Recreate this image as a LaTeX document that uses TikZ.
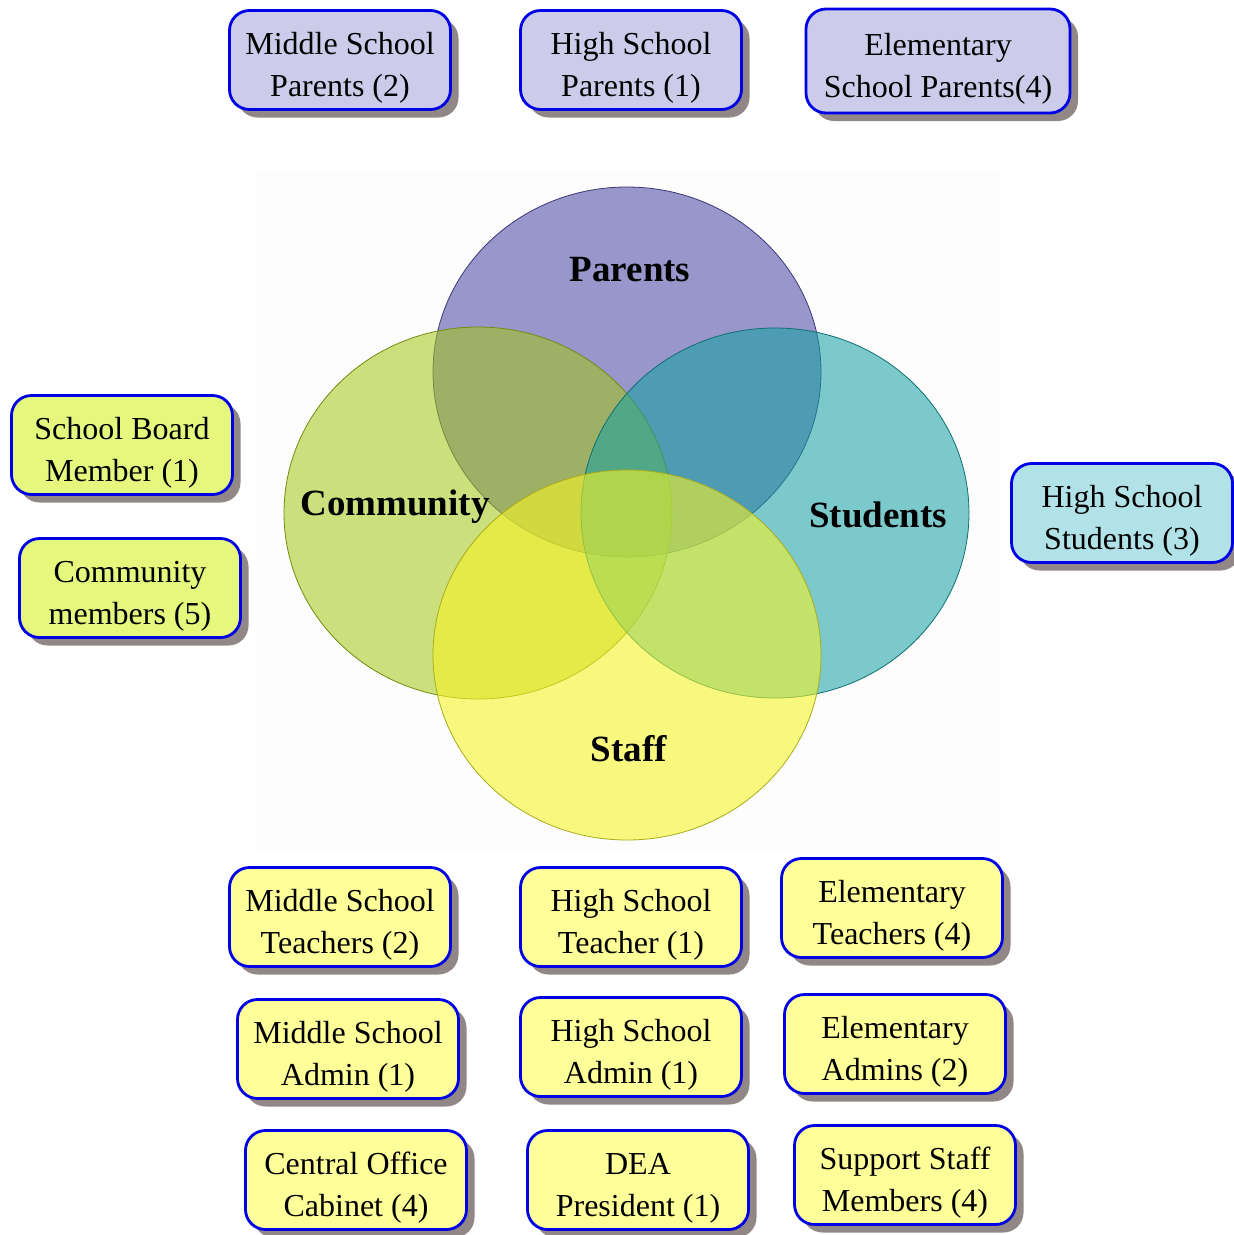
\documentclass[tikz,border=0pt]{standalone}
\usepackage{fontspec}
\setmainfont{Liberation Serif}
\usepackage{tikz}
\usetikzlibrary{shadows,positioning}
\definecolor{cardedge}{HTML}{0000E6}
\definecolor{shadowc}{HTML}{918787}
\definecolor{cardlav}{HTML}{CDCBEA}
\definecolor{cardlime}{HTML}{E6F77E}
\definecolor{cardaqua}{HTML}{B0E2E8}
\definecolor{cardyel}{HTML}{FFFF99}
\definecolor{venbg}{HTML}{FDFDFD}
\definecolor{parc}{HTML}{5552AA}
\definecolor{comc}{HTML}{A4C714}
\definecolor{stuc}{HTML}{13A0A2}
\definecolor{stfc}{HTML}{F5F526}
\newcommand\cardtxt[2]{\rule{0pt}{38pt}#1\\#2}
\tikzset{
  card/.style={draw=cardedge, line width=2.8pt, rounded corners=20pt,
    minimum width=221pt, minimum height=99pt, inner sep=0pt, align=center,
    font=\fontsize{32}{42}\selectfont,
    drop shadow={shadow xshift=8pt, shadow yshift=-8pt, fill=shadowc, opacity=1}},
  setc/.style 2 args={fill=#1, fill opacity=#2, draw=#1!70!black, line width=0.8pt},
  setlab/.style={font=\fontsize{37}{40}\selectfont\bfseries},
}
\begin{document}
\begin{tikzpicture}[x=1pt,y=-1pt]
\useasboundingbox (0,0) rectangle (1234,1235);
\fill[venbg] (255,170) rectangle (1000,850);

\draw[setc={parc}{0.6}] (627,372) ellipse [x radius=194, y radius=185];
\draw[setc={comc}{0.55}] (478,513) ellipse [x radius=194, y radius=186];
\draw[setc={stuc}{0.55}] (775,513) ellipse [x radius=194, y radius=185];
\draw[setc={stfc}{0.59}] (627,655) ellipse [x radius=194, y radius=185];

\node[setlab] (parents) at (630,270) {Parents};
\node[setlab] (community) at (395,507) {Community};
\node[setlab] (students) at (878,515) {Students};
\node[setlab] (staff) at (629,749) {Staff};

\node[card, fill=cardlav] (msparents) at (340,60) {\cardtxt{Middle School}{Parents (2)}};
\node[card, fill=cardlav] (hsparents) at (631,60) {\cardtxt{High School}{Parents (1)}};
\node[card, fill=cardlav, minimum width=264pt, minimum height=104pt] (esparents) at (938,61) {\cardtxt{Elementary}{School Parents(4)}};

\node[card, fill=cardlime] (board) at (122,445) {\cardtxt{School Board}{Member (1)}};
\node[card, fill=cardlime] (commem) at (130,588) {\cardtxt{Community}{members (5)}};

\node[card, fill=cardaqua] (hsstudents) at (1122,513) {\cardtxt{High School}{Students (3)}};

\node[card, fill=cardyel] (msteach) at (340,917) {\cardtxt{Middle School}{Teachers (2)}};
\node[card, fill=cardyel] (hsteach) at (631,917) {\cardtxt{High School}{Teacher (1)}};
\node[card, fill=cardyel] (esteach) at (892,908) {\cardtxt{Elementary}{Teachers (4)}};
\node[card, fill=cardyel] (msadmin) at (348,1049) {\cardtxt{Middle School}{Admin (1)}};
\node[card, fill=cardyel] (hsadmin) at (631,1047) {\cardtxt{High School}{Admin (1)}};
\node[card, fill=cardyel] (esadmin) at (895,1044) {\cardtxt{Elementary}{Admins (2)}};
\node[card, fill=cardyel] (cabinet) at (356,1180) {\cardtxt{Central Office}{Cabinet (4)}};
\node[card, fill=cardyel] (dea) at (638,1180) {\cardtxt{DEA}{President (1)}};
\node[card, fill=cardyel] (support) at (905,1175) {\cardtxt{Support Staff}{Members (4)}};
\end{tikzpicture}
\end{document}
